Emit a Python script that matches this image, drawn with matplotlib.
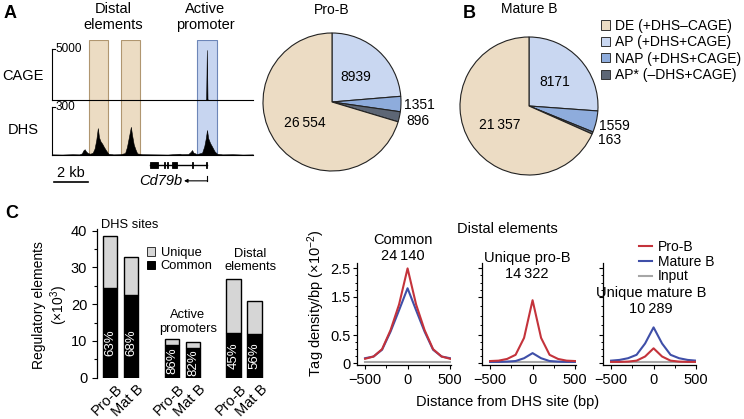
import numpy as np
import matplotlib
matplotlib.use('Agg')
import matplotlib.pyplot as plt
from matplotlib.patches import Rectangle, Patch
from matplotlib.lines import Line2D
from matplotlib.ticker import FixedLocator
import matplotlib.transforms as mtransforms

plt.rcParams['font.family'] = ['Liberation Sans', 'DejaVu Sans']
plt.rcParams['mathtext.fontset'] = 'custom'
plt.rcParams['mathtext.rm'] = 'Liberation Sans'
plt.rcParams['mathtext.it'] = 'Liberation Sans:italic'
plt.rcParams['font.size'] = 10
plt.rcParams['axes.linewidth'] = 0.9

W, H = 744, 419

# ---- panel A: genome tracks (x in kb) ----
DHS_KB = [0.0, 0.6, 1.2, 1.6, 1.75, 1.85, 1.92, 2.0, 2.1, 2.24, 2.39, 2.5, 2.6, 2.69,
          2.76, 2.85, 2.95, 3.05, 3.18, 3.31, 3.6, 4.0, 4.29, 4.4, 4.52, 4.63, 4.7,
          4.8, 4.9, 5.0, 5.3, 6.0, 6.8, 7.5, 7.6, 8.0, 8.15, 8.22, 8.3, 8.5, 8.81,
          8.94, 9.03, 9.1, 9.17, 9.28, 9.41, 9.55, 9.69, 10.0, 10.6, 11.2, 11.8]
DHS_VAL = [4, 3, 5, 4, 10, 30, 36, 22, 12, 8, 14, 40, 95, 168,
           110, 85, 70, 50, 28, 8, 4, 5, 12, 50, 115, 176, 125,
           65, 35, 10, 5, 4, 3, 8, 5, 6, 20, 31, 15, 6, 14,
           55, 105, 156, 105, 75, 50, 22, 8, 4, 5, 3, 4]
CAGE_KB = [0.0, 9.0, 9.05, 9.09, 9.13, 9.18, 11.8]
CAGE_VAL = [0, 0, 80, 4900, 80, 0, 0]
DISTAL_BOXES = [(2.18, 3.29), (4.06, 5.18)]
PROMOTER_BOX = (8.53, 9.71)
GENE_SPAN = (5.76, 9.12)
EXONS = [(5.76, 6.24), (6.59, 6.65), (6.76, 6.82), (7.06, 7.35), (8.24, 8.30), (9.06, 9.12)]
TRACK_KB = 11.8

# ---- panels A/B: pies ----
PIE_LABELS = ['DE (+DHS\u2013CAGE)', 'AP (+DHS+CAGE)', 'NAP (+DHS+CAGE)', 'AP* (\u2013DHS+CAGE)']
PIE_COLORS = ['#ecdcc4', '#c9d7f1', '#8eacdc', '#5d6675']
PROB_COUNTS = [26554, 8939, 1351, 896]
MATB_COUNTS = [21357, 8171, 1559, 163]

# ---- panel C: bars (x10^3) ----
GROUPS = ['DHS sites', 'Active\npromoters', 'Distal\nelements']
CELLS = ['Pro-B', 'Mat B']
TOTAL = [38.5, 32.9, 10.4, 9.8, 26.8, 20.9]
COMMON = [24.3, 22.6, 9.0, 8.2, 12.1, 11.8]
PCT = ['63%', '68%', '86%', '82%', '45%', '56%']

# ---- panel C: tag density profiles ----
X_BP = [-500, -400, -300, -200, -100, 0, 100, 200, 300, 400, 500]
PROFILES = [
    ('Common', 24140,
     [0.08, 0.12, 0.25, 0.63, 1.30, 2.50, 1.30, 0.63, 0.25, 0.12, 0.08],
     [0.09, 0.12, 0.24, 0.59, 1.15, 1.80, 1.15, 0.59, 0.24, 0.12, 0.09],
     [0.03, 0.03, 0.03, 0.03, 0.03, 0.03, 0.03, 0.03, 0.03, 0.03, 0.03]),
    ('Unique pro-B', 14322,
     [0.04, 0.047, 0.077, 0.15, 0.45, 1.41, 0.45, 0.15, 0.077, 0.047, 0.04],
     [0.025, 0.025, 0.03, 0.04, 0.09, 0.18, 0.09, 0.04, 0.03, 0.025, 0.025],
     [0.02, 0.02, 0.02, 0.02, 0.02, 0.02, 0.02, 0.02, 0.02, 0.02, 0.02]),
    ('Unique mature B', 10289,
     [0.025, 0.025, 0.03, 0.047, 0.12, 0.265, 0.12, 0.047, 0.03, 0.025, 0.025],
     [0.047, 0.06, 0.09, 0.15, 0.35, 0.70, 0.35, 0.15, 0.09, 0.06, 0.047],
     [0.02, 0.02, 0.02, 0.02, 0.02, 0.02, 0.02, 0.02, 0.02, 0.02, 0.02]),
]
Y_TICKS = [0, 0.5, 1.5, 2.5]
Y_TICK_PX = [0, 28.3, 66.6, 95]
LINE_COLORS = {'Pro-B': '#c4333b', 'Mature B': '#3f4fa8', 'Input': '#a6a6a6'}


fig = plt.figure(figsize=(W / 100, H / 100), dpi=100)


def px_axes(left, top, width, height, **kw):
    return fig.add_axes([left / W, 1 - (top + height) / H, width / W, height / H], **kw)


def ftext(x, y, s, **kw):
    kw.setdefault('ha', 'center')
    kw.setdefault('va', 'center')
    return fig.text(x / W, 1 - y / H, s, **kw)


def fmt(v):
    return '{:,}'.format(v).replace(',', '\u2009') if v >= 10000 else str(v)


# ---------------- panel A tracks ----------------
ftext(10, 13, 'A', fontsize=13, fontweight='bold')
ftext(113, 17, 'Distal\nelements', fontsize=10.5, linespacing=1.1)
ftext(205, 17, 'Active\npromoter', fontsize=10.5, linespacing=1.1)

box_ax = px_axes(52, 40, 201, 116)
box_ax.set_xlim(0, TRACK_KB)
box_ax.set_ylim(0, 1)
box_ax.axis('off')
for x0, x1 in DISTAL_BOXES:
    box_ax.add_patch(Rectangle((x0, 0), x1 - x0, 1, fc='#ecdcc3', ec='#b09670', lw=0.8))
box_ax.add_patch(Rectangle((PROMOTER_BOX[0], 0), PROMOTER_BOX[1] - PROMOTER_BOX[0], 1,
                           fc='#c7d5f0', ec='#6d86b8', lw=0.8))

cage_ax = px_axes(52, 49, 201, 51)
dhs_ax = px_axes(52, 107, 201, 48)
for ax, kb, val, top, name, ylab in [(cage_ax, CAGE_KB, CAGE_VAL, 5000, 'CAGE', 76),
                                      (dhs_ax, DHS_KB, DHS_VAL, 300, 'DHS', 130)]:
    ax.patch.set_visible(False)
    ax.fill_between(kb, 0, val, color='black', lw=0.4)
    ax.set_xlim(0, TRACK_KB)
    ax.set_ylim(0, top)
    for s in ['top', 'right']:
        ax.spines[s].set_visible(False)
    ax.spines['left'].set_linewidth(0.8)
    ax.spines['bottom'].set_linewidth(0.8)
    ax.set_xticks([])
    ax.set_yticks([])
    ax.plot([0, 0.15], [top, top], color='black', lw=0.8, clip_on=False)
    ax.text(0.2, top, str(top), ha='left', va='center', fontsize=8.5)
    ftext(23, ylab, name, fontsize=10.5)

gene_ax = px_axes(52, 156, 201, 36)
gene_ax.set_xlim(0, TRACK_KB)
gene_ax.set_ylim(0, 1)
gene_ax.axis('off')
gene_ax.plot(GENE_SPAN, [0.75, 0.75], color='black', lw=1)
for x0, x1 in EXONS:
    gene_ax.add_patch(Rectangle((x0, 0.66), x1 - x0, 0.18, fc='black', ec='black', lw=0.6))
gene_ax.plot([GENE_SPAN[1], GENE_SPAN[1]], [0.31, 0.45], color='black', lw=0.8)
gene_ax.annotate('', xy=(7.75, 0.31), xytext=(GENE_SPAN[1] + 0.02, 0.31),
                 arrowprops=dict(arrowstyle='-|>', lw=0.8, color='black',
                                 mutation_scale=5, shrinkA=0, shrinkB=0))
gene_ax.text(6.41, 0.31, 'Cd79b', style='italic', ha='center', va='center', fontsize=10.5)
gene_ax.plot([0.12, 2.12], [0.28, 0.28], color='black', lw=1.2)
gene_ax.text(1.12, 0.53, '2 kb', ha='center', va='center', fontsize=10.5)


# ---------------- pies ----------------
def draw_pie(cx, cy, r, counts, title, title_y):
    side = 2 * r * 1.02
    ax = px_axes(cx - side / 2, cy - side / 2, side, side)
    order = [1, 2, 3, 0]
    vals = [counts[i] for i in order]
    cols = [PIE_COLORS[i] for i in order]
    wedges, _ = ax.pie(vals, colors=cols, startangle=90, counterclock=False,
                       wedgeprops=dict(edgecolor='#222222', linewidth=0.8))
    ax.set_xlim(-1.02, 1.02)
    ax.set_ylim(-1.02, 1.02)
    for w, v in zip(wedges, vals):
        ang = np.deg2rad((w.theta1 + w.theta2) / 2)
        rr = 0.5 if v > 5000 else 1.27
        ax.text(rr * np.cos(ang), rr * np.sin(ang), fmt(v), ha='center', va='center',
                fontsize=10, clip_on=False)
    ftext(cx, title_y, title, fontsize=10)


draw_pie(332, 102, 69, PROB_COUNTS, 'Pro-B', 10)
ftext(469, 13, 'B', fontsize=13, fontweight='bold')
draw_pie(529, 106, 69, MATB_COUNTS, 'Mature B', 9)

pie_handles = [Patch(fc=c, ec='#333333', lw=0.7, label=l) for c, l in zip(PIE_COLORS, PIE_LABELS)]
fig.legend(handles=pie_handles, loc='upper left', bbox_to_anchor=(601 / W, 1 - 19 / H),
           frameon=False, fontsize=10, handlelength=0.65, handleheight=0.65,
           handletextpad=0.35, labelspacing=0.17, borderpad=0, borderaxespad=0)


# ---------------- panel C bars ----------------
ftext(12, 213, 'C', fontsize=13, fontweight='bold')
bar_ax = px_axes(97, 229.2, 170.5, 148.5)
gap = 2.95
xs = []
for g in range(len(GROUPS)):
    for k in range(len(CELLS)):
        xs.append(g * gap + (k - 0.5))
xs = np.array(xs)
tot = np.array(TOTAL)
com = np.array(COMMON)
bar_ax.bar(xs, com, width=0.71, color='black', ec='black', lw=1)
bar_ax.bar(xs, tot - com, bottom=com, width=0.71, color='#d6d6d6', ec='black', lw=1)
for x, c, p in zip(xs, com, PCT):
    bar_ax.text(x, min(c / 2, 9.6), p, rotation=90, color='white', ha='center', va='center',
                fontsize=9.5)
bar_ax.set_xlim(-1.12, 7.0)
bar_ax.set_ylim(0, 40.4)
for s in ['top', 'right', 'bottom']:
    bar_ax.spines[s].set_visible(False)
bar_ax.set_yticks([0, 10, 20, 30, 40])
bar_ax.yaxis.set_minor_locator(FixedLocator([5, 15, 25, 35]))
bar_ax.tick_params(axis='y', which='major', direction='out', length=3.5, width=0.8, pad=3.5,
                   labelsize=10.5)
bar_ax.tick_params(axis='y', which='minor', direction='out', length=2, width=0.8)
bar_ax.set_xticks(xs)
bar_ax.set_xticklabels(CELLS * len(GROUPS), rotation=45, ha='right', va='top',
                       rotation_mode='anchor', fontsize=10.5)
bar_ax.tick_params(axis='x', length=0, pad=3)
shift = mtransforms.ScaledTranslation(5 / 100, 0, fig.dpi_scale_trans)
for lab in bar_ax.get_xticklabels():
    lab.set_transform(lab.get_transform() + shift)

group_text_pos = [(0.45, 41.5), (3.2, 15.2), (6.17, 31.8)]
for name, (gx, gy) in zip(GROUPS, group_text_pos):
    bar_ax.text(gx, gy, name, ha='center', va='center', fontsize=9.3, linespacing=1.15,
                clip_on=False)
bar_handles = [Patch(fc='#d6d6d6', ec='#333333', lw=0.7, label='Unique'),
               Patch(fc='black', ec='black', lw=0.7, label='Common')]
bar_ax.legend(handles=bar_handles, loc='upper left', bbox_to_anchor=(147 / W, 1 - 247 / H),
              bbox_transform=fig.transFigure, frameon=False, fontsize=9.3,
              handlelength=0.6, handleheight=0.6, handletextpad=0.45, labelspacing=0.1,
              borderpad=0, borderaxespad=0)
ftext(51, 305, 'Regulatory elements\n(\u00d710$^3$)', rotation=90, fontsize=10,
      linespacing=1.1)


# ---------------- panel C profiles ----------------
def fwd(v):
    return np.interp(v, [-10] + Y_TICKS + [12.5], [-566] + Y_TICK_PX + [379])


def inv(v):
    return np.interp(v, [-566] + Y_TICK_PX + [379], [-10] + Y_TICKS + [12.5])


minor_y = [0.125, 0.25, 0.375, 0.75, 1.0, 1.25, 1.75, 2.0, 2.25]
lefts = [357, 482, 603]
title_pos = [(403, 248), (527, 266), (651, 301)]
axes = []
for i, (name, n, prob, matb, inp) in enumerate(PROFILES):
    ax = px_axes(lefts[i], 263, 93.5, 102)
    ax.patch.set_visible(False)
    ax.plot(X_BP, inp, color=LINE_COLORS['Input'], lw=1.5, label='Input')
    ax.plot(X_BP, matb, color=LINE_COLORS['Mature B'], lw=1.5, label='Mature B')
    ax.plot(X_BP, prob, color=LINE_COLORS['Pro-B'], lw=1.5, label='Pro-B')
    ax.set_yscale('function', functions=(fwd, inv))
    ax.set_xlim(-595, 505)
    ax.set_ylim(-0.03, 2.69)
    for s in ['top', 'right']:
        ax.spines[s].set_visible(False)
    ax.set_xticks([-500, 0, 500])
    ax.xaxis.set_minor_locator(FixedLocator([-250, 250]))
    ax.yaxis.set_major_locator(FixedLocator(Y_TICKS))
    ax.yaxis.set_minor_locator(FixedLocator(minor_y))
    ax.set_yticklabels([str(t) for t in Y_TICKS] if i == 0 else [])
    ax.tick_params(which='major', direction='out', length=3, width=0.8, labelsize=10.5)
    ax.tick_params(axis='x', which='major', pad=3)
    ax.tick_params(axis='y', which='major', pad=1.5)
    ax.tick_params(which='minor', direction='out', length=1.8, width=0.7)
    ftext(title_pos[i][0], title_pos[i][1], name + '\n' + fmt(n), fontsize=10.5, linespacing=1.15)
    axes.append(ax)

ftext(507, 229, 'Distal elements', fontsize=10.5)
ftext(508, 402, 'Distance from DHS site (bp)', fontsize=10.5)
ftext(316, 303, 'Tag density/bp (\u00d710$^{\u22122}$)', rotation=90, fontsize=10.5)

line_handles = [Line2D([], [], color=LINE_COLORS[k], lw=1.5, label=k)
                for k in ['Pro-B', 'Mature B', 'Input']]
axes[2].legend(handles=line_handles, loc='upper left', bbox_to_anchor=(639 / W, 1 - 240 / H),
               bbox_transform=fig.transFigure, frameon=False, fontsize=10,
               handlelength=0.9, handletextpad=0.45, labelspacing=0.05,
               borderpad=0, borderaxespad=0)

fig.savefig('out.png', dpi=100)
